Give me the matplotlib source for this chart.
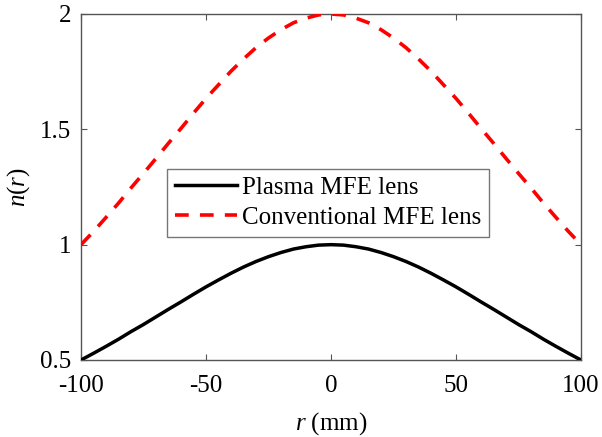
import matplotlib
matplotlib.use('Agg')
import matplotlib.pyplot as plt

# radius (mm) and index profiles
r_mm = [-100, -95, -90, -85, -80, -75, -70, -65, -60, -55, -50, -45, -40, -35,
        -30, -25, -20, -15, -10, -5, 0, 5, 10, 15, 20, 25, 30, 35, 40, 45,
        50, 55, 60, 65, 70, 75, 80, 85, 90, 95, 100]
n_plasma = [0.500, 0.529, 0.559, 0.590, 0.623, 0.654, 0.687, 0.720, 0.752, 0.785,
            0.817, 0.847, 0.876, 0.903, 0.927, 0.948, 0.966, 0.981, 0.991, 0.998,
            1.000,
            0.998, 0.991, 0.981, 0.966, 0.948, 0.927, 0.903, 0.876, 0.847, 0.817,
            0.785, 0.752, 0.720, 0.687, 0.654, 0.623, 0.590, 0.559, 0.529, 0.500]
n_conv = [1.000, 1.057, 1.118, 1.180, 1.246, 1.309, 1.374, 1.440, 1.504, 1.570,
          1.634, 1.693, 1.752, 1.805, 1.854, 1.896, 1.932, 1.962, 1.982, 1.996,
          2.000,
          1.996, 1.982, 1.962, 1.932, 1.896, 1.854, 1.805, 1.752, 1.693, 1.634,
          1.570, 1.504, 1.440, 1.374, 1.309, 1.246, 1.180, 1.118, 1.057, 1.000]

xticks = [-100, -50, 0, 50, 100]
yticks = [0.5, 1, 1.5, 2]

plt.rcParams['font.family'] = ['Liberation Serif', 'DejaVu Serif']
plt.rcParams['mathtext.fontset'] = 'custom'
plt.rcParams['mathtext.it'] = 'Liberation Serif:italic'
plt.rcParams['mathtext.rm'] = 'Liberation Serif'

fs = 18

fig = plt.figure(figsize=(6.02, 4.37), dpi=100)
ax = fig.add_axes([81/602, 1 - 360/437, 500/602, 346/437])

ax.plot(r_mm, n_plasma, color='black', lw=2.5, label='Plasma MFE lens', zorder=3)
ax.plot(r_mm, n_conv, color='#ff0000', lw=2.6, ls=(0, (3.8, 3.1)),
        label='Conventional MFE lens', zorder=3)

ax.set_xlim(-100, 100)
ax.set_ylim(0.5, 2)
ax.set_xticks(xticks)
ax.set_xticklabels(['-100', '-50', '0', '50', '100'])
ax.set_yticks(yticks)
ax.set_yticklabels(['0.5', '1', '1.5', '2'])
ax.tick_params(direction='in', length=4, width=0.8, colors='#555555',
               labelcolor='black', labelsize=fs, top=True, right=True)
ax.tick_params(axis='x', pad=11)
ax.tick_params(axis='y', pad=7)
for s in ax.spines.values():
    s.set_color('#555555')
    s.set_linewidth(1.0)

ax.set_xlabel(r'$r$ (mm)', fontsize=fs, labelpad=9.5)
ax.set_ylabel(r'$n$($r$)', fontsize=fs, labelpad=6)

leg = ax.legend(loc='upper left', bbox_to_anchor=(86/500, (360-169)/346),
                fontsize=fs, frameon=True, fancybox=False, handlelength=2.5,
                handletextpad=0.2, borderpad=0.3, labelspacing=0.3,
                borderaxespad=0)
leg.get_frame().set_edgecolor('#555555')
leg.get_frame().set_linewidth(1.0)

fig.savefig('out.png', dpi=100)
